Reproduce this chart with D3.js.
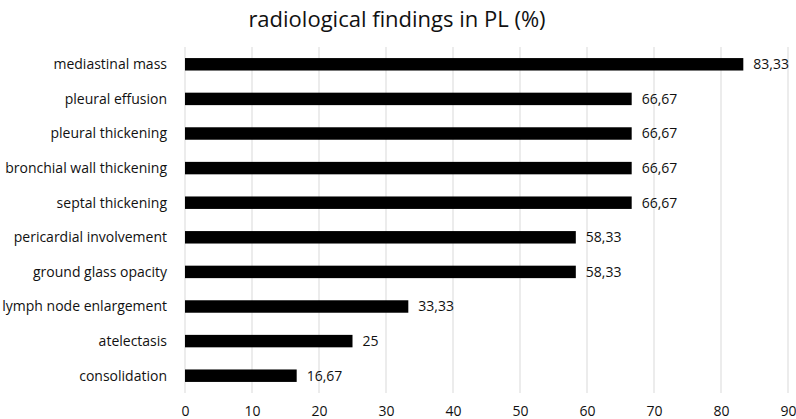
<!DOCTYPE html>
<html><head><meta charset="utf-8">
<script src="https://cdn.jsdelivr.net/npm/d3@7"></script>
<style>body{margin:0;background:#fff}svg{display:block}text{font-family:"Open Sans","Liberation Sans",sans-serif}</style>
</head><body><svg id="c" width="796" height="419"></svg>
<script>
const categories = ["mediastinal mass","pleural effusion","pleural thickening","bronchial wall thickening","septal thickening","pericardial involvement","ground glass opacity","lymph node enlargement","atelectasis","consolidation"];
const values = [83.33,66.67,66.67,66.67,66.67,58.33,58.33,33.33,25,16.67];
const valueLabels = ["83,33","66,67","66,67","66,67","66,67","58,33","58,33","33,33","25","16,67"];
const xTicks = [0,10,20,30,40,50,60,70,80,90];
const title = "radiological findings in PL (%)";

const svg = d3.select("#c");
const x = d3.scaleLinear().domain([0,90]).range([185,788]);
const y = d3.scaleBand().domain(categories).range([47,393]).paddingInner(0.64).paddingOuter(0.32);

svg.append("g").selectAll("line").data(xTicks).join("line")
  .attr("x1",d=>x(d)).attr("x2",d=>x(d)).attr("y1",47).attr("y2",393)
  .attr("stroke","#d9d9d9").attr("stroke-width",1);

svg.append("g").selectAll("rect").data(values).join("rect")
  .attr("x",x(0)).attr("y",(d,i)=>y(categories[i]))
  .attr("width",d=>x(d)-x(0)).attr("height",y.bandwidth()).attr("fill","#000");

svg.append("g").selectAll("text").data(valueLabels).join("text")
  .attr("x",(d,i)=>x(values[i])+10).attr("y",(d,i)=>y(categories[i])+y.bandwidth()/2)
  .attr("dy","0.35em").attr("font-size",14).attr("fill","#111").text(d=>d);

svg.append("g").selectAll("text").data(categories).join("text")
  .attr("x",167).attr("y",d=>y(d)+y.bandwidth()/2).attr("dy","0.35em")
  .attr("text-anchor","end").attr("font-size",14).attr("fill","#111").text(d=>d);

const ax = d3.axisBottom(x).tickValues(xTicks).tickSize(0).tickPadding(13).tickFormat(d3.format("d"));
const g = svg.append("g").attr("transform","translate(0,393)").call(ax);
g.select(".domain").remove();
g.selectAll("text").attr("font-size",14).attr("fill","#111").style("font-family",'"Open Sans","Liberation Sans",sans-serif');

svg.append("text").attr("x",397).attr("y",27).attr("text-anchor","middle")
  .attr("font-size",22).attr("fill","#111").text(title);
</script></body></html>
